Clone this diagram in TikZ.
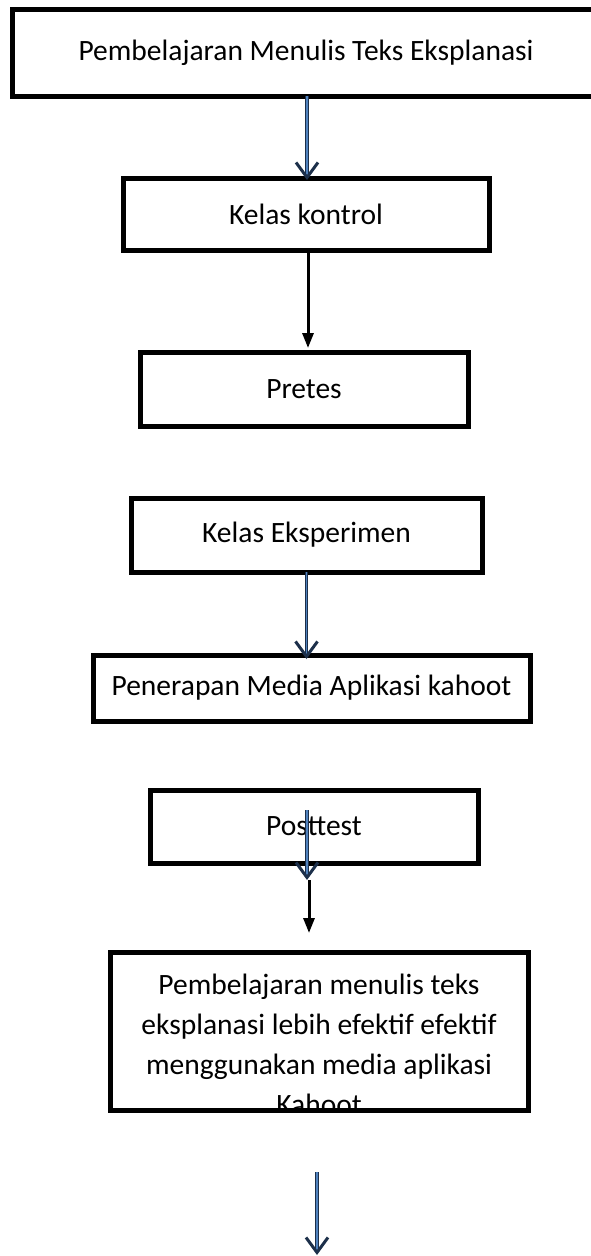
\documentclass[tikz,border=0pt]{standalone}
\usepackage{fontspec}
\setmainfont{Carlito}
\usetikzlibrary{arrows.meta}
\definecolor{garisbiru}{HTML}{1C2F4A}
\definecolor{isibiru}{HTML}{4F81BD}
\tikzset{
  kotak/.style={draw, line width=5pt, inner sep=0pt, outer sep=0pt, align=center},
  panahhitam/.style={-{Triangle[length=15pt,width=11pt]}, line width=3pt},
  panahbiru/.style={-{Straight Barb[length=15pt,width=22pt,line width=3pt,color=garisbiru]}, draw=garisbiru, double=isibiru, double distance=1.4pt, line width=1.1pt}
}
\begin{document}
\begin{tikzpicture}[x=1pt, y=-1pt, font=\fontsize{29.5}{40}\selectfont, line join=miter]
	\useasboundingbox (0,0) rectangle (590,1256);
	\node[kotak, minimum width=588pt, minimum height=87pt] (awal) at (306,52.5) {Pembelajaran Menulis Teks Eksplanasi};
	\node[kotak, minimum width=366pt, minimum height=72pt] (kontrol) at (306,214) {Kelas kontrol};
	\node[kotak, minimum width=328pt, minimum height=74pt] (pretes) at (304,389) {Pretes};
	\node[kotak, minimum width=351pt, minimum height=74pt] (eksperimen) at (306.5,535) {Kelas Eksperimen};
	\node[kotak, minimum width=437pt, minimum height=66pt] (penerapan) at (311.5,688) {Penerapan Media Aplikasi kahoot};
	\node[kotak, minimum width=328pt, minimum height=73pt] (posttest) at (314,826.5) {Posttest};
	% kotak hasil, teksnya terpotong di bawah
	\begin{scope}
		\clip (110,952) rectangle (528,1110);
		\node[align=center] (teks) at (319,1044) {Pembelajaran menulis teks\\eksplanasi lebih efektif efektif\\menggunakan media aplikasi\\Kahoot};
	\end{scope}
	\node[kotak, minimum width=418pt, minimum height=158pt] (hasil) at (319,1031) {};
	% panah
	\coordinate (p1) at (307,810);
	\coordinate (p2) at (307,880);
	\coordinate (p3) at (309,880);
	\coordinate (p4) at (309,933);
	\coordinate (p5) at (317,1172);
	\coordinate (p6) at (317,1255);
	\draw[panahbiru] (awal.south -| 307,0) -- ([yshift=-2pt]kontrol.north -| 307,0);
	\draw[panahhitam] (kontrol.south -| 308,0) -- ([yshift=4pt]pretes.north -| 308,0);
	\draw[panahbiru] (eksperimen.south) -- ([yshift=-4pt]penerapan.north -| eksperimen);
	\draw[panahbiru] (p1) -- (p2);
	\draw[panahhitam] (p3) -- (p4);
	\draw[panahbiru] (p5) -- (p6);
\end{tikzpicture}
\end{document}
